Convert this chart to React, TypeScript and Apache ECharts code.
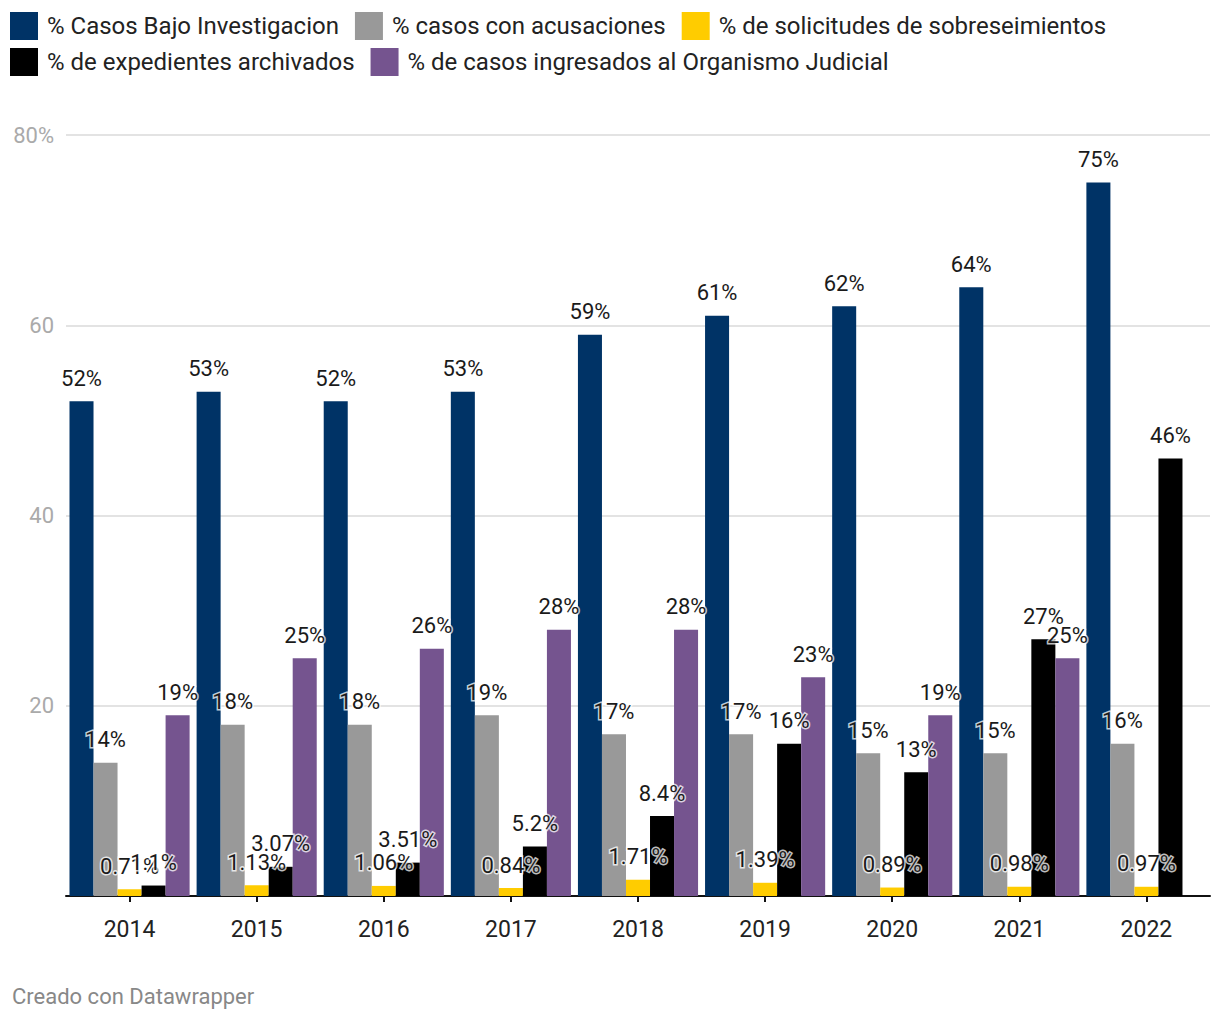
import React, { useEffect, useRef } from "react";
import * as echarts from "echarts";

const years = ["2014", "2015", "2016", "2017", "2018", "2019", "2020", "2021", "2022"];
const seriesNames = [
  "% Casos Bajo Investigacion",
  "% casos con acusaciones",
  "% de solicitudes de sobreseimientos",
  "% de expedientes archivados",
  "% de casos ingresados al Organismo Judicial",
];
const bajoInvestigacion = [52, 53, 52, 53, 59, 61, 62, 64, 75];
const acusaciones = [14, 18, 18, 19, 17, 17, 15, 15, 16];
const sobreseimientos = [0.71, 1.13, 1.06, 0.84, 1.71, 1.39, 0.89, 0.98, 0.97];
const archivados = [1.1, 3.07, 3.51, 5.2, 8.4, 16, 13, 27, 46];
const ingresadosOJ = [19, 25, 26, 28, 28, 23, 19, 25, null];
const colors = ["#003366", "#999999", "#ffcc00", "#000000", "#75548f"];
const yTicks = [0, 20, 40, 60, 80];

const FONT = "Roboto, 'Noto Sans', sans-serif";

export default function App() {
  const ref = useRef<HTMLDivElement>(null);
  useEffect(() => {
    if (!ref.current) return;
    const chart = echarts.init(ref.current, null, { renderer: "svg" });
    const dataSets = [bajoInvestigacion, acusaciones, sobreseimientos, archivados, ingresadosOJ];
    const legendCommon = {
      left: 10,
      padding: 0,
      orient: "horizontal",
      icon: "rect",
      itemWidth: 28,
      itemHeight: 28,
      itemGap: 16,
      selectedMode: false,
      textStyle: {
        fontFamily: FONT,
        fontSize: 24,
        color: "#222222",
        padding: [0, 0, 0, 4],
      },
    };
    chart.setOption({
      animation: false,
      textStyle: { fontFamily: FONT },
      legend: [
        { ...legendCommon, top: 12, data: seriesNames.slice(0, 3) },
        { ...legendCommon, top: 48, data: seriesNames.slice(3) },
      ],
      grid: { left: 66, right: 10, top: 135, bottom: 124, containLabel: false },
      xAxis: {
        type: "category",
        data: years,
        axisLine: { show: true, lineStyle: { color: "#111", width: 2 } },
        axisTick: { show: true, alignWithLabel: true, length: 6, lineStyle: { color: "#111", width: 2 } },
        axisLabel: { fontFamily: FONT, fontSize: 23, color: "#222", margin: 22 },
        splitLine: { show: false },
      },
      yAxis: {
        type: "value",
        min: yTicks[0],
        max: yTicks[yTicks.length - 1],
        interval: 20,
        axisLine: { show: false },
        axisTick: { show: false },
        axisLabel: {
          fontFamily: FONT,
          fontSize: 22,
          color: "#aaaaaa",
          margin: 12,
          formatter: (v: number) => (v === 0 ? "" : v === 80 ? "80%" : String(v)),
        },
        splitLine: {
          show: true,
          lineStyle: { color: "#e3e3e3", width: 2 },
          showMinLine: false,
        },
      },
      series: seriesNames.map((name, i) => ({
        name,
        type: "bar",
        data: dataSets[i],
        barGap: "0%",
        barCategoryGap: "5.5%",
        itemStyle: { color: colors[i] },
        label: {
          show: true,
          position: "top",
          distance: 12,
          fontFamily: FONT,
          fontSize: 22,
          color: "#1a1a1a",
          textBorderColor: "rgba(255,255,255,0.75)",
          textBorderWidth: 3,
          formatter: (p: any) => (p.value == null ? "" : `${p.value}%`),
        },
      })),
      graphic: [
        {
          type: "text",
          left: 12,
          top: 985,
          style: {
            text: "Creado con Datawrapper",
            fontFamily: FONT,
            fontSize: 22,
            fill: "#888888",
          },
        },
      ],
    });
    return () => chart.dispose();
  }, []);
  return (
    <div
      ref={ref}
      style={{ position: "absolute", left: 0, top: 0, width: 1220, height: 1020, background: "#fff" }}
    />
  );
}
